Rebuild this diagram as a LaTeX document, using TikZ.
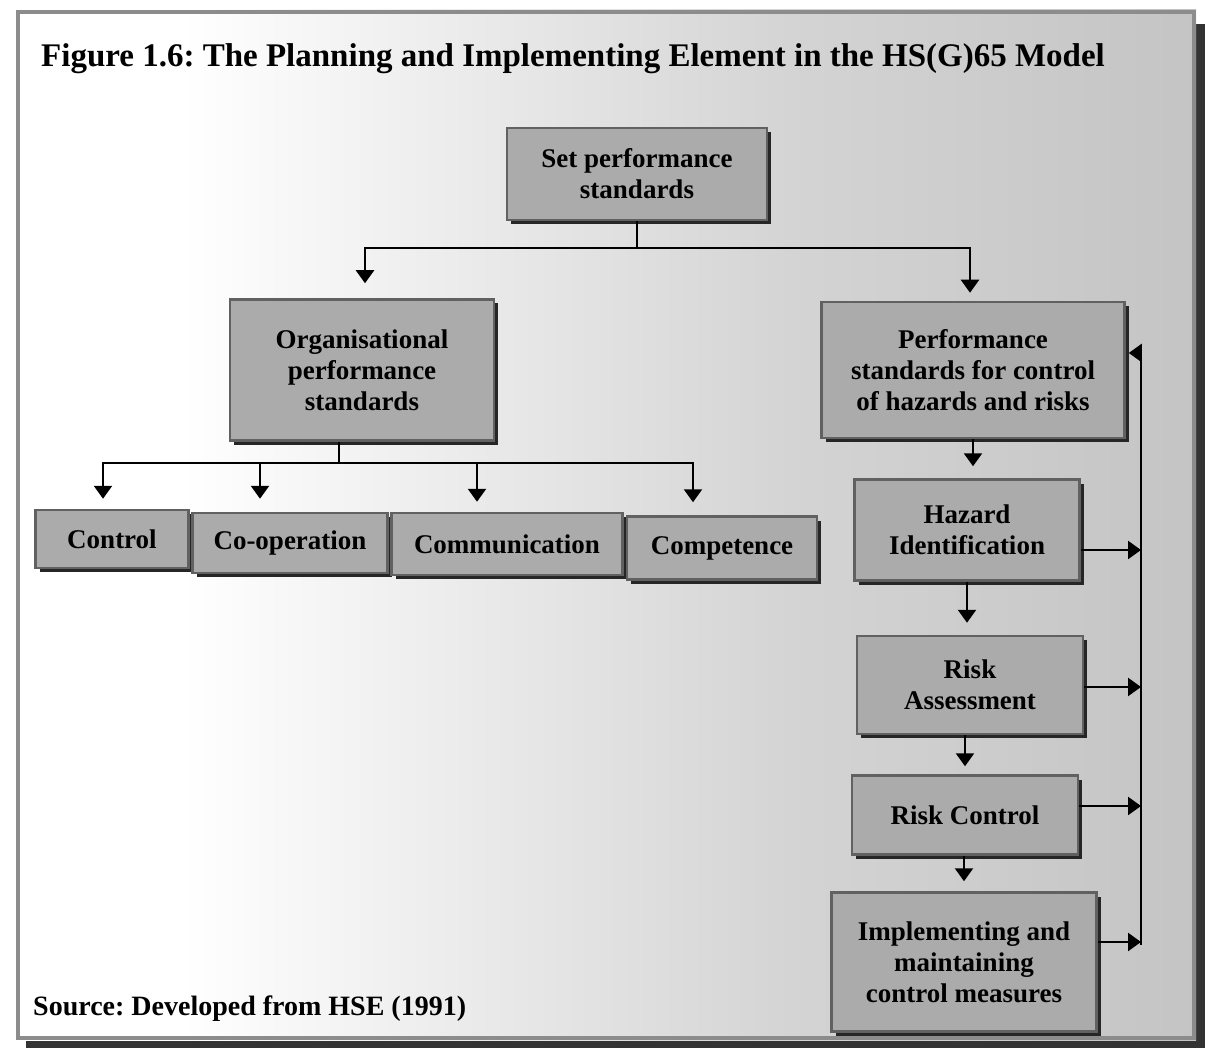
\documentclass[tikz,border=0pt]{standalone}
\usepackage{fontspec}
\setmainfont{Liberation Serif}
\usetikzlibrary{arrows.meta,shadows,calc}
\frenchspacing

% paper tone of the panel: white on the left, greyer towards the right
\pgfdeclarehorizontalshading{paneltone}{100bp}{color(0bp)=(white); color(32bp)=(white); color(58bp)=(black!17); color(100bp)=(black!32)}

\begin{document}
\begin{tikzpicture}[x=1pt,y=-1pt,
  box/.style={draw=black!62, line width=2.5pt, fill=black!33, align=center, inner sep=0pt,
    font=\fontsize{27}{31}\selectfont\bfseries,
    drop shadow={shadow xshift=4pt, shadow yshift=-4pt, fill=black!85, opacity=1}},
  link/.style={line width=2.4pt, black},
  arr/.style={link, -{Triangle[width=18pt,length=13pt]}},
]
\useasboundingbox (0,0) rectangle (1210,1048);

% framed panel with its shadow
\fill[black!80] (26,1040) rectangle (1205,1048);
\fill[black!80] (1196,24) rectangle (1205,1048);
\shade[shading=paneltone] (16,10) rectangle (1196,1040);
\draw[black!45, line width=4pt] (18,12) rectangle (1194,1038);

% heading and source line
\node[anchor=base west, inner sep=0pt, font=\fontsize{33}{38}\selectfont\bfseries] (title) at (41,67)
  {Figure 1.6: The Planning and Implementing Element in the HS(G)65 Model};
\node[anchor=base west, inner sep=0pt, font=\fontsize{28}{32}\selectfont\bfseries] (src) at (33,1015)
  {Source: Developed from HSE (1991)};

% boxes
\node[box, minimum width=260pt, minimum height=92pt]  (set)  at (637,174) {Set performance\\standards};
\node[box, minimum width=264pt, minimum height=141pt] (org)  at (362,370) {Organisational\\performance\\standards};
\node[box, minimum width=303pt, minimum height=136pt] (psc)  at (973,370) {Performance\\standards for control\\of hazards and risks};

\node[box, minimum width=153pt, minimum height=58pt] (ctrl) at (112,539) {Control};
\node[box, minimum width=195pt, minimum height=60pt] (coop) at (290,543) {Co-operation};
\node[box, minimum width=231pt, minimum height=62pt] (comm) at (507,544) {Communication};
\node[box, minimum width=190pt, minimum height=63pt] (comp) at (722,548) {Competence};

\node[box, minimum width=225pt, minimum height=101pt] (haz)  at (967,530) {Hazard\\Identification};
\node[box, minimum width=226pt, minimum height=98pt]  (risk) at (970,685) {Risk\\Assessment};
\node[box, minimum width=226pt, minimum height=79pt]  (rc)   at (965,815) {Risk Control};
\node[box, minimum width=265pt, minimum height=139pt] (impl) at (964,962) {Implementing and\\maintaining\\control measures};

% top split
\draw[link] (set.south) -- ++(0,27) coordinate (b1);
\draw[arr] (b1) -| ($(org.north)+(3,-15)$);
\draw[arr] (b1) -| ($(psc.north)+(-3,-8)$);

% organisational branch
\draw[link] ($(org.south)+(-23,0)$) -- ++(0,21) coordinate (b2);
\draw[arr] (b2) -| ($(ctrl.north)+(-9,-10)$);
\draw[arr] (b2) -| ($(coop.north)+(-30,-13)$);
\draw[arr] (b2) -| ($(comm.north)+(-30,-10)$);
\draw[arr] (b2) -| ($(comp.north)+(-29,-13)$);

% hazard and risk chain
\draw[arr, shorten >=12pt] (psc.south) -- (psc.south |- haz.north);
\draw[arr, shorten >=12pt] (haz.south) -- (haz.south |- risk.north);
\draw[arr, shorten >=8pt]  (rc.north |- risk.south) -- (rc.north);
\draw[arr, shorten >=10pt] (impl.north |- rc.south) -- (impl.north);

% feedback loop
\coordinate (fbtop) at (1141,353);
\coordinate (fbbot) at (1141,945);
\coordinate (h1) at ($(haz.east)+(0,20)$);
\coordinate (h2) at ($(risk.east)+(0,2)$);
\coordinate (h3) at ($(rc.east)+(0,-9)$);
\coordinate (h4) at ($(impl.east)+(0,-20)$);
\draw[link] (fbbot) -- (fbtop);
\draw[arr] (h1) -- (h1 -| fbtop);
\draw[arr] (h2) -- (h2 -| fbtop);
\draw[arr] (h3) -- (h3 -| fbtop);
\draw[arr] (h4) -- (h4 -| fbtop);
\draw[arr, shorten >=3pt] (fbtop) -- (fbtop -| psc.east);
\end{tikzpicture}
\end{document}
